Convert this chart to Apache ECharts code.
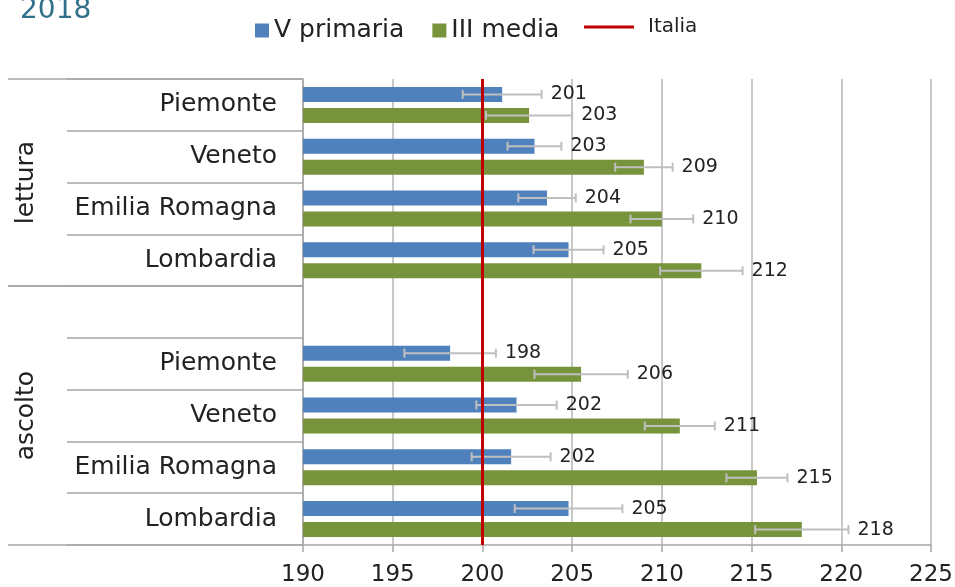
<!DOCTYPE html>
<html><head><meta charset="utf-8">
<script src="https://cdn.jsdelivr.net/npm/echarts@6/dist/echarts.min.js"></script>
<style>html,body{margin:0;padding:0;background:#fff}#c{width:955px;height:587px}</style>
</head><body><div id="c"></div><script>
// ---- data ----
const titleText = '2018';
const groups = ['lettura', 'ascolto'];
const groupSizes = [4, 5]; // category rows per group (ascolto includes spacer row)
const categories = ['Piemonte', 'Veneto', 'Emilia Romagna', 'Lombardia', '', 'Piemonte', 'Veneto', 'Emilia Romagna', 'Lombardia'];
const seriesNames = ['V primaria', 'III media'];
const primaria = [201.1, 202.9, 203.6, 204.8, null, 198.2, 201.9, 201.6, 204.8];
const media = [202.6, 209.0, 210.0, 212.2, null, 205.5, 211.0, 215.3, 217.8];
const primariaErr = [2.2, 1.5, 1.6, 1.95, null, 2.55, 2.24, 2.2, 3.0];
const mediaErr = [2.4, 1.6, 1.75, 2.3, null, 2.6, 1.95, 1.7, 2.6];
const italiaName = 'Italia';
const italiaValue = 200;
const xMin = 190, xMax = 225, xStep = 5;

// ---- style ----
const FONT = '"DejaVu Sans", sans-serif';
const TXT = '#222222';
const BLUE = '#4F81BD', GREEN = '#77933C', RED = '#C00000';
const AXIS = '#A6A6A6', GRID = '#C8C8C8', ERR = '#BFBFBF';
const BAR_W = 15, GAP_PX = 6;

const chart = echarts.init(document.getElementById('c'), null, {renderer: 'canvas'});

function errData(vals, errs) {
  const out = [];
  vals.forEach((v, i) => { if (v != null) out.push([v - errs[i], v + errs[i], i, Math.round(v)]); });
  return out;
}
function errRender(sign) {
  return function (params, api) {
    const ci = api.value(2);
    const p0 = api.coord([api.value(0), ci]);
    const p1 = api.coord([api.value(1), ci]);
    const y = p0[1] + sign * (BAR_W + GAP_PX) / 2;
    const cap = 4.5;
    const st = {stroke: ERR, lineWidth: 2};
    return {type: 'group', children: [
      {type: 'line', shape: {x1: p0[0], y1: y, x2: p1[0], y2: y}, style: st},
      {type: 'line', shape: {x1: p0[0], y1: y - cap, x2: p0[0], y2: y + cap}, style: st},
      {type: 'line', shape: {x1: p1[0], y1: y - cap, x2: p1[0], y2: y + cap}, style: st},
      {type: 'text', style: {text: String(api.value(3)), x: p1[0] + 9, y: y, fill: TXT,
        font: '19px ' + FONT, textAlign: 'left', textVerticalAlign: 'middle', align: 'left', verticalAlign: 'middle'}}
    ]};
  };
}

const option = {
  animation: false,
  backgroundColor: '#fff',
  textStyle: {fontFamily: FONT},
  grid: {left: 303, right: 24, top: 79, bottom: 42, containLabel: false, outerBoundsMode: 'none'},
  legend: [
    {data: seriesNames, left: 255, top: 18, padding: 0, icon: 'rect', itemWidth: 14, itemHeight: 14, itemGap: 28,
     selectedMode: false, textStyle: {fontSize: 25, color: TXT, fontFamily: FONT}},
    {data: [italiaName], left: 584, top: 17, padding: 0, icon: 'rect', itemWidth: 50, itemHeight: 3,
     selectedMode: false, textStyle: {fontSize: 20, color: TXT, fontFamily: FONT, padding: [0, 0, 0, 9]}}
  ],
  xAxis: {
    type: 'value', min: xMin, max: xMax, interval: xStep,
    axisLine: {show: true, lineStyle: {color: AXIS, width: 1.5}},
    axisTick: {show: true, length: 7, lineStyle: {color: AXIS, width: 1.5}},
    splitLine: {show: true, lineStyle: {color: GRID, width: 2}},
    axisLabel: {fontSize: 23, color: TXT, margin: 19, fontFamily: FONT}
  },
  yAxis: {
    type: 'category', inverse: true,
    data: categories.map((c, i) => String(i)),
    axisLine: {show: true, lineStyle: {color: AXIS, width: 1.5}},
    axisTick: {show: true, length: 236, interval: 0, lineStyle: {color: AXIS, width: 1.5}},
    axisLabel: {interval: 0, margin: 26, fontSize: 25, color: TXT, fontFamily: FONT,
      formatter: (v, i) => categories[i]},
    splitLine: {show: false}
  },
  series: [
    {name: seriesNames[0], type: 'bar', data: primaria.map(v => v == null ? '-' : v),
     barWidth: BAR_W, barGap: (GAP_PX / BAR_W * 100) + '%', itemStyle: {color: BLUE}, z: 2},
    {name: seriesNames[1], type: 'bar', data: media.map(v => v == null ? '-' : v),
     barWidth: BAR_W, barGap: (GAP_PX / BAR_W * 100) + '%', itemStyle: {color: GREEN}, z: 2},
    {name: 'errP', type: 'custom', renderItem: errRender(-1), data: errData(primaria, primariaErr),
     encode: {x: [0, 1], y: 2}, z: 3, silent: true},
    {name: 'errM', type: 'custom', renderItem: errRender(1), data: errData(media, mediaErr),
     encode: {x: [0, 1], y: 2}, z: 3, silent: true},
    {name: italiaName, type: 'line', data: [], color: RED, z: 10,
     markLine: {silent: true, symbol: ['none', 'none'], label: {show: false},
       lineStyle: {color: RED, width: 3, type: 'solid'}, data: [{xAxis: italiaValue}]}}
  ]
};
chart.setOption(option);

// group labels and long separators in the label column
const yPix = k => chart.convertToPixel({yAxisIndex: 0}, k);
const band = yPix(1) - yPix(0);
const boundary = k => yPix(0) + (k - 0.5) * band;
const axisX = chart.convertToPixel({xAxisIndex: 0}, xMin);
const graphics = [];
let start = 0;
groups.forEach((g, gi) => {
  const end = start + groupSizes[gi];
  [start, end].forEach(k => graphics.push({type: 'line', silent: true,
    shape: {x1: 8, y1: boundary(k), x2: axisX, y2: boundary(k)}, style: {stroke: AXIS, lineWidth: 1.5}}));
  graphics.push({type: 'text', silent: true, x: 26, y: (boundary(start) + boundary(end)) / 2, rotation: Math.PI / 2,
    style: {text: g, font: '25px ' + FONT, fill: TXT, textAlign: 'center', textVerticalAlign: 'middle', align: 'center', verticalAlign: 'middle'}});
  start = end;
});
graphics.push({type: 'text', silent: true, x: 20, y: 11,
  style: {text: titleText, font: '28px ' + FONT, fill: '#31708A', textAlign: 'left', textVerticalAlign: 'middle', align: 'left', verticalAlign: 'middle'}});
chart.setOption({graphic: graphics});
</script></body></html>
